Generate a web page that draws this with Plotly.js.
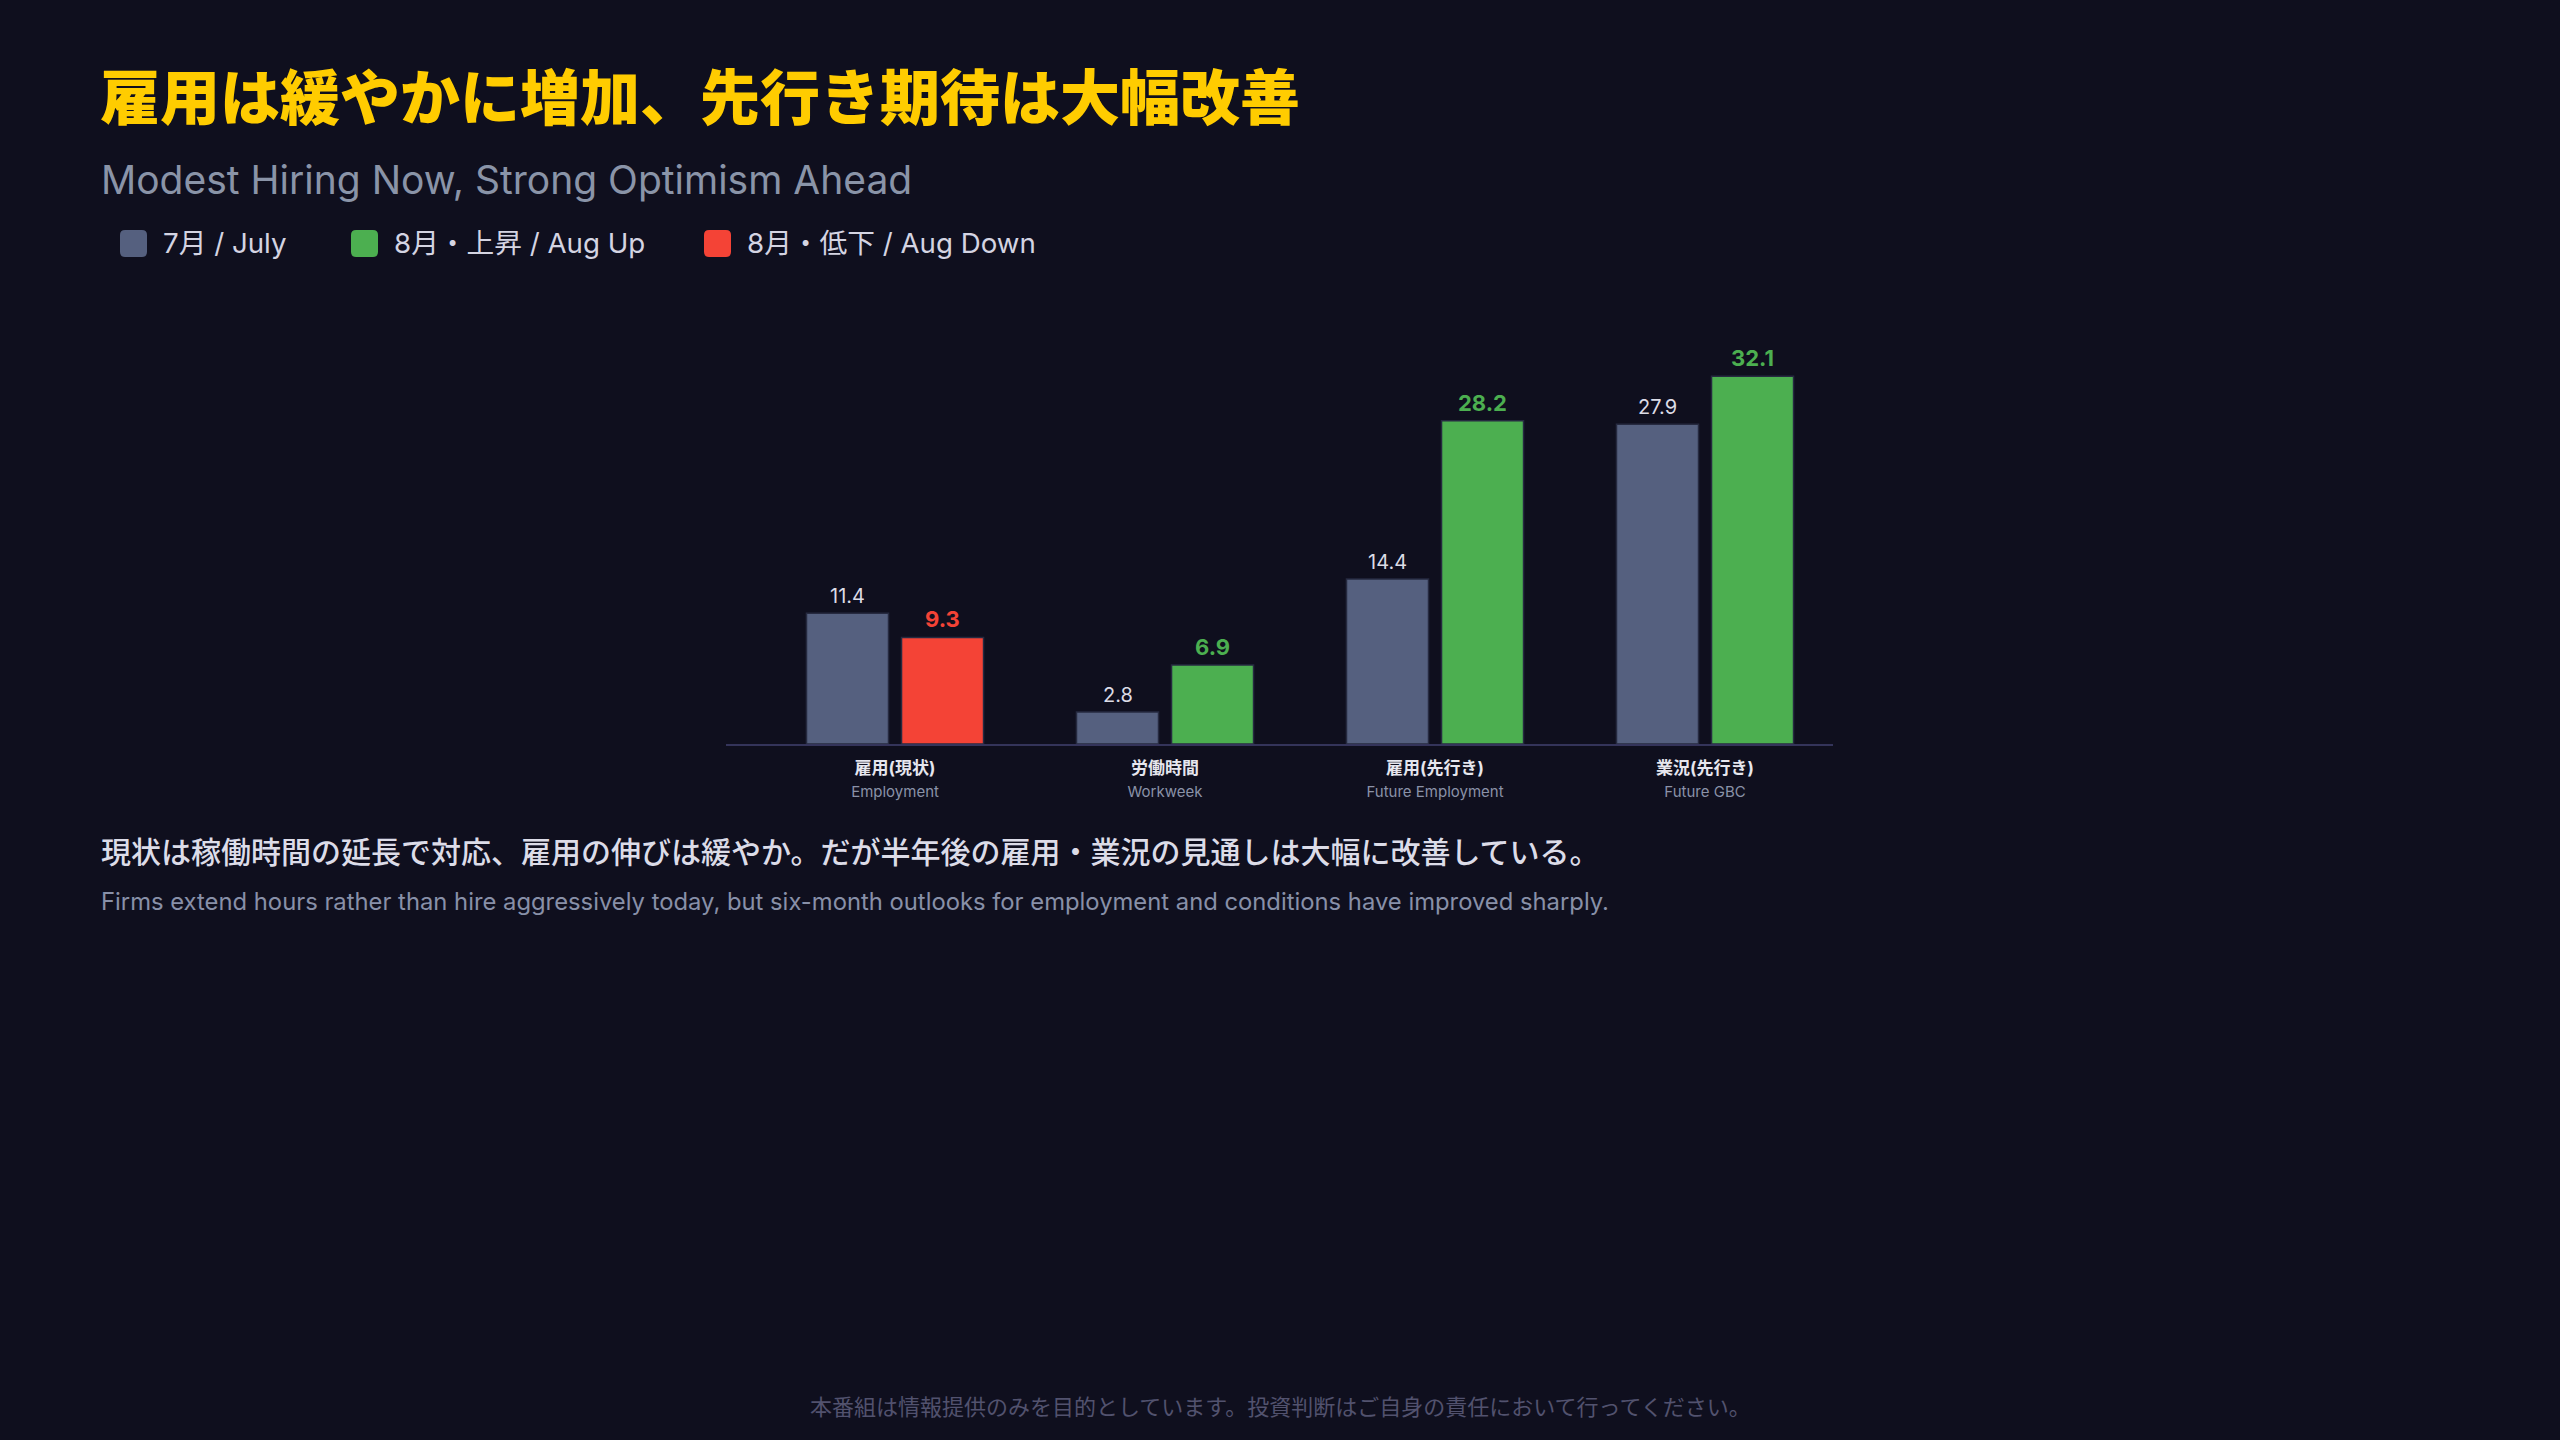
<!DOCTYPE html>
<html>
<head>
<meta charset="utf-8">
<script src="https://cdn.plot.ly/plotly-3.0.1.min.js"></script>
<style>
  html, body { margin: 0; padding: 0; background: #0f0f1e; }
  #chart { width: 2560px; height: 1440px; }
</style>
</head>
<body>
<div id="chart"></div>
<script>
  "use strict";

  // --- data ---
  const categoriesJa = ['雇用(現状)', '労働時間', '雇用(先行き)', '業況(先行き)'];
  const categoriesEn = ['Employment', 'Workweek', 'Future Employment', 'Future GBC'];
  const july = [11.4, 2.8, 14.4, 27.9];
  const august = [9.3, 6.9, 28.2, 32.1];

  const legendLabels = ['7月 / July', '8月・上昇 / Aug Up', '8月・低下 / Aug Down'];

  const titleText = '雇用は緩やかに増加、先行き期待は大幅改善';
  const subtitleText = 'Modest Hiring Now, Strong Optimism Ahead';
  const captionJa = '現状は稼働時間の延長で対応、雇用の伸びは緩やか。だが半年後の雇用・業況の見通しは大幅に改善している。';
  const captionEn = 'Firms extend hours rather than hire aggressively today, but six-month outlooks for employment and conditions have improved sharply.';
  const footerText = '本番組は情報提供のみを目的としています。投資判断はご自身の責任において行ってください。';

  // --- style ---
  const BG = '#0f0f1e';
  const GRAY = '#55607f', GREEN = '#4caf50', RED = '#f44336';
  const legendColors = [GRAY, GREEN, RED];
  const FONT = "Inter, 'Noto Sans CJK JP', sans-serif";

  const W = 2560, H = 1440;
  const px = x => x / W;          // pixel -> paper x
  const py = y => 1 - y / H;      // pixel -> paper y (from top)

  // plot box in pixels
  const baseY = 744, pxPerUnit = 11.46, yMax = 36;

  // August bar coloured by direction of change
  const augColors = august.map((v, i) => v >= july[i] ? GREEN : RED);

  const tickText = categoriesJa.map((ja, i) =>
    '<b>' + ja + '</b><br><span style="font-size:15px;color:#8a92a8">' + categoriesEn[i] + '</span>');

  const traces = [
    {
      type: 'bar', x: categoriesJa, y: july, name: legendLabels[0],
      marker: {color: GRAY, line: {color: '#262a40', width: 1.5}},
      hoverinfo: 'skip'
    },
    {
      type: 'bar', x: categoriesJa, y: august, name: '8月',
      marker: {color: augColors, line: {color: '#262a40', width: 1.5}},
      hoverinfo: 'skip'
    }
  ];

  let annotations = [];

  // value labels above bars
  july.forEach((v, i) => annotations.push({
    x: categoriesJa[i], y: v, xref: 'x', yref: 'y', xshift: -47.5, yshift: 3,
    text: v.toFixed(1), showarrow: false, yanchor: 'bottom',
    font: {size: 20, color: '#dcdce6', family: FONT}
  }));
  august.forEach((v, i) => annotations.push({
    x: categoriesJa[i], y: v, xref: 'x', yref: 'y', xshift: 47.5, yshift: 3,
    text: '<b>' + v.toFixed(1) + '</b>', showarrow: false, yanchor: 'bottom',
    font: {size: 22, color: augColors[i], family: FONT}
  }));

  // subtitle, captions, footer
  const textAt = (text, x, y, size, color, extra) => Object.assign({
    text: text, xref: 'paper', yref: 'paper', x: px(x), y: py(y),
    xanchor: 'left', yanchor: 'middle', showarrow: false,
    font: {size: size, color: color, family: FONT}
  }, extra || {});

  annotations.push(textAt(subtitleText, 99, 179, 39, '#8a94a8'));
  annotations.push(textAt(captionJa, 99, 852, 30, '#dcdce8'));
  annotations[annotations.length - 1].font.weight = 500;
  annotations.push(textAt(captionEn, 99, 901, 23.8, '#8890a8'));
  annotations.push(textAt(footerText, 1280, 1407, 22, '#52526e', {xanchor: 'center'}));

  // custom legend: rounded squares + labels
  const legendX = [120, 351, 704], legendY = 242.5, sq = 13.5, r = 5;
  const roundSquare = (h, r) =>
    `M${-h + r},${-h} L${h - r},${-h} Q${h},${-h} ${h},${-h + r} L${h},${h - r} Q${h},${h} ${h - r},${h} ` +
    `L${-h + r},${h} Q${-h},${h} ${-h},${h - r} L${-h},${-h + r} Q${-h},${-h} ${-h + r},${-h} Z`;

  let shapes = legendLabels.map((lbl, i) => ({
    type: 'path', xref: 'paper', yref: 'paper',
    xsizemode: 'pixel', ysizemode: 'pixel',
    xanchor: px(legendX[i] + sq), yanchor: py(legendY + 1),
    path: roundSquare(sq, r), fillcolor: legendColors[i], line: {width: 0}
  }));
  legendLabels.forEach((lbl, i) =>
    annotations.push(textAt(lbl, legendX[i] + 41, legendY, 27.7, '#d4d4e2')));

  const layout = {
    width: W, height: H,
    margin: {l: 0, r: 0, t: 0, b: 0, pad: 0},
    paper_bgcolor: BG, plot_bgcolor: BG,
    font: {family: FONT, color: '#e6e6ee'},
    showlegend: false,
    barmode: 'group', bargap: 0.296, bargroupgap: 0.137,
    title: {
      text: titleText, x: px(100), xanchor: 'left', y: py(99), yanchor: 'middle',
      font: {size: 60, color: '#ffcc00', weight: 900, family: FONT}
    },
    xaxis: {
      type: 'category', domain: [px(726), px(1833)], range: [-0.626, 3.474],
      showline: true, linecolor: '#34345a', linewidth: 2,
      showgrid: false, zeroline: false, ticks: '', ticklabelstandoff: 8,
      tickvals: categoriesJa, ticktext: tickText,
      tickfont: {size: 17, color: '#e6e6ee', family: FONT},
      fixedrange: true
    },
    yaxis: {
      domain: [py(baseY), py(baseY - yMax * pxPerUnit)], range: [0, yMax],
      visible: false, fixedrange: true
    },
    annotations: annotations,
    shapes: shapes
  };

  Plotly.newPlot('chart', traces, layout, {displayModeBar: false, staticPlot: true});
</script>
</body>
</html>
